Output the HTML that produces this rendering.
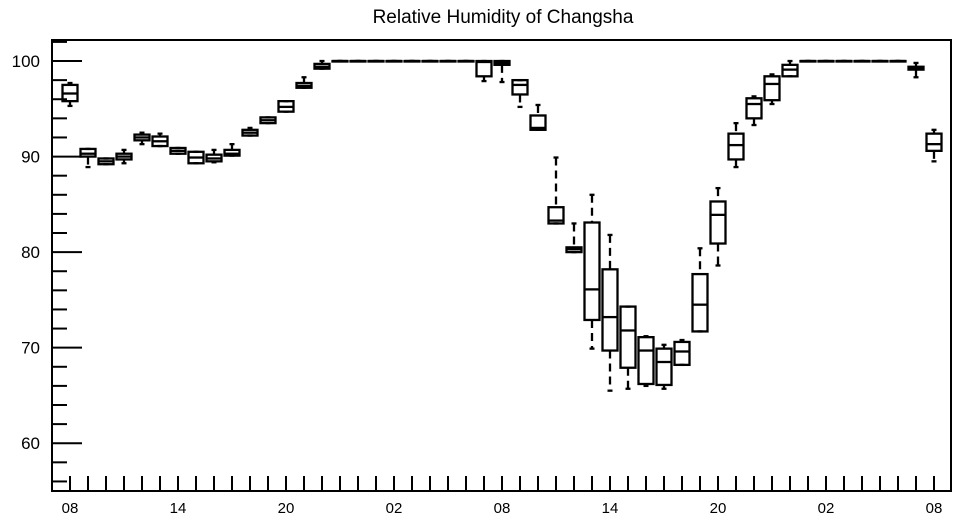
<!DOCTYPE html>
<html><head><meta charset="utf-8"><style>
body{margin:0;background:#fff;}
svg{display:block;font-family:"Liberation Sans",Helvetica,sans-serif;}
</style></head><body>
<svg id="chart" width="957" height="520" viewBox="0 0 957 520" xmlns="http://www.w3.org/2000/svg">
<rect width="957" height="520" fill="#fff"/>
<text x="503" y="23" font-size="19" text-anchor="middle">Relative Humidity of Changsha</text>
<g id="axes"></g>
<g id="boxes"></g>
</svg>
<script>
const hourLabels = ["08","14","20","02","08","14","20","02","08"];
const yTicks = [60,70,80,90,100];
const mins = [95.3,88.9,89.2,89.3,91.3,91.1,90.3,89.3,89.4,90.1,92.2,93.5,94.7,97.2,99.2,100,100,100,100,100,100,100,100,97.9,97.8,95.2,92.8,83.0,80.0,69.9,65.5,65.7,66.0,65.7,68.2,71.7,78.6,88.9,93.3,95.5,98.4,100,100,100,100,100,100,98.3,89.5];
const q1s = [95.8,90.0,89.2,89.7,91.7,91.1,90.3,89.3,89.5,90.1,92.2,93.5,94.7,97.2,99.2,100,100,100,100,100,100,100,100,98.4,99.6,96.5,92.8,83.0,80.0,72.9,69.7,67.9,66.2,66.1,68.2,71.7,80.9,89.7,94.0,95.9,98.4,100,100,100,100,100,100,99.1,90.6];
const meds = [96.6,90.3,89.5,90.0,92.0,91.6,90.6,89.9,89.8,90.3,92.5,93.8,95.2,97.4,99.4,100,100,100,100,100,100,100,100,99.9,99.8,97.5,93.0,83.3,80.3,76.1,73.2,71.8,69.7,68.5,69.6,74.5,83.9,91.2,95.5,97.6,99.1,100,100,100,100,100,100,99.2,91.3];
const q3s = [97.5,90.8,89.8,90.3,92.3,92.1,90.9,90.5,90.2,90.7,92.8,94.1,95.8,97.7,99.7,100,100,100,100,100,100,100,100,100,100,98.0,94.3,84.7,80.5,83.1,78.2,74.3,71.1,69.9,70.6,77.7,85.3,92.4,96.1,98.4,99.6,100,100,100,100,100,100,99.4,92.4];
const maxs = [97.7,90.8,89.8,90.7,92.5,92.4,90.9,90.5,90.7,91.3,93.0,94.1,95.8,98.3,100,100,100,100,100,100,100,100,100,100,100,98.0,95.4,89.9,83.0,86.0,81.8,74.3,71.2,70.3,70.8,80.4,86.7,93.5,96.3,98.6,100,100,100,100,100,100,100,99.8,92.8];

const L=52,R=951,T=40,B=491,YMIN=55,YMAX=102.2;
const x = i => 70 + 18*i;
const y = v => B - (v-YMIN)/(YMAX-YMIN)*(B-T);
const NS="http://www.w3.org/2000/svg";
function mk(tag, attrs, parent){const e=document.createElementNS(NS,tag);for(const k in attrs)e.setAttribute(k,attrs[k]);parent.appendChild(e);return e;}
const axes=document.getElementById('axes');
const frame=mk('rect',{x:L,y:T,width:R-L,height:B-T,fill:'none',stroke:'#000','stroke-width':2},axes);


for(let v=56; v<=102; v+=2){
  const major = v%10===0;
  const t=mk('line',{x1:L,x2:L+(major?30:15),y1:y(v),y2:y(v),stroke:'#000','stroke-width':2},axes);
  
  
}
yTicks.forEach(v=>{
  const t=mk('text',{x:40,y:y(v)+6,'font-size':17,'text-anchor':'end'},axes);
  t.textContent=v;
  
  
});
for(let i=0;i<=48;i++){
  const t=mk('line',{x1:x(i),x2:x(i),y1:B,y2:B-15,stroke:'#000','stroke-width':2},axes);
  
  
}
hourLabels.forEach((s,k)=>{
  const t=mk('text',{x:x(k*6),y:513,'font-size':15,'text-anchor':'middle'},axes);
  t.textContent=s;
  
  
});
const boxes=document.getElementById('boxes');
for(let i=0;i<meds.length;i++){
  const g=mk('g',{stroke:'#000','stroke-width':2.3,fill:'none'},boxes);
  
  
  const cx=x(i),w=7.5;
  mk('line',{x1:cx,x2:cx,y1:y(maxs[i]),y2:y(q3s[i]),'stroke-dasharray':'8,5'},g);
  mk('line',{x1:cx,x2:cx,y1:y(q1s[i]),y2:y(mins[i]),'stroke-dasharray':'8,5'},g);
  mk('line',{x1:cx-2.5,x2:cx+2.5,y1:y(maxs[i]),y2:y(maxs[i])},g);
  mk('line',{x1:cx-2.5,x2:cx+2.5,y1:y(mins[i]),y2:y(mins[i])},g);
  const h=Math.max(0.5,y(q1s[i])-y(q3s[i]));
  mk('rect',{x:cx-w,y:y(q3s[i]),width:2*w,height:h},g);
  mk('line',{x1:cx-w,x2:cx+w,y1:y(meds[i]),y2:y(meds[i])},g);
}
</script>
</body></html>
